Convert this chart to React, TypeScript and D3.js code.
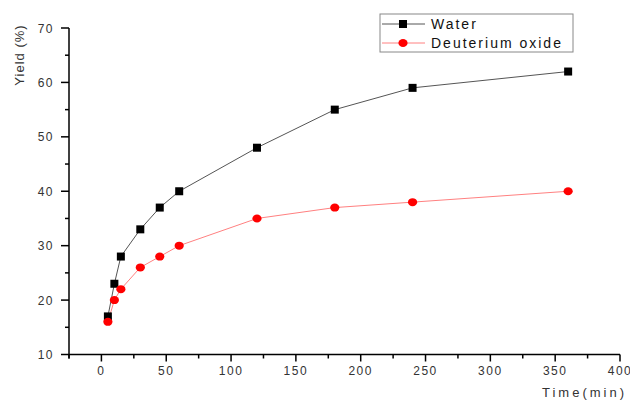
import React from "react";
import * as d3 from "d3";

const times = [5, 10, 15, 30, 45, 60, 120, 180, 240, 360];
const waterYield = [17, 23, 28, 33, 37, 40, 48, 55, 59, 62];
const d2oYield = [16, 20, 22, 26, 28, 30, 35, 37, 38, 40];
const xTicks = [0, 50, 100, 150, 200, 250, 300, 350, 400];
const xMinor = [-25, 25, 75, 125, 175, 225, 275, 325, 375];
const yTicks = [10, 20, 30, 40, 50, 60, 70];
const yMinor = [15, 25, 35, 45, 55, 65];
const seriesNames = ["Water", "Deuterium oxide"];

const W = 630;
const H = 401;
const font = "'Liberation Sans', Arial, sans-serif";

export default function App() {
  const x = d3.scaleLinear().domain([-25, 400]).range([69, 620]);
  const y = d3.scaleLinear().domain([10, 70]).range([354.5, 28]);
  const line = d3
    .line<[number, number]>()
    .x((d) => x(d[0]))
    .y((d) => y(d[1]));
  const wData = times.map((t, i) => [t, waterYield[i]] as [number, number]);
  const dData = times.map((t, i) => [t, d2oYield[i]] as [number, number]);
  const x0 = x(-25);
  const y0 = y(10);

  return (
    <svg
      width={W}
      height={H}
      style={{ position: "absolute", left: 0, top: 0, background: "#fff" }}
    >
      <rect width={W} height={H} fill="#fff" />
      {/* lines */}
      <path d={line(wData) || ""} fill="none" stroke="#555" strokeWidth={1} />
      <path d={line(dData) || ""} fill="none" stroke="#ff8080" strokeWidth={1} />
      {wData.map((d, i) => (
        <rect
          key={"w" + i}
          x={x(d[0]) - 4}
          y={y(d[1]) - 4}
          width={8}
          height={8}
          fill="#000"
        />
      ))}
      {dData.map((d, i) => (
        <ellipse
          key={"d" + i}
          cx={x(d[0])}
          cy={y(d[1])}
          rx={4.6}
          ry={4}
          fill="#ff0000"
        />
      ))}
      {/* axes */}
      <line x1={x0} x2={x(400)} y1={y0} y2={y0} stroke="#000" strokeWidth={1.5} />
      <line x1={x0} x2={x0} y1={y(70)} y2={y0 + 4} stroke="#000" strokeWidth={1.5} />
      {xTicks.map((t) => (
        <g key={"xt" + t}>
          <line x1={x(t)} x2={x(t)} y1={y0} y2={y0 + 7} stroke="#000" strokeWidth={1.5} />
          <text
            x={x(t)}
            y={375}
            textAnchor="middle"
            fontFamily={font}
            fontSize={12}
            letterSpacing={1.5}
            fill="#333"
          >
            {t}
          </text>
        </g>
      ))}
      {xMinor.map((t) => (
        <line key={"xm" + t} x1={x(t)} x2={x(t)} y1={y0} y2={y0 + 4} stroke="#000" strokeWidth={1.5} />
      ))}
      {yTicks.map((t) => (
        <g key={"yt" + t}>
          <line x1={x0 - 8} x2={x0} y1={y(t)} y2={y(t)} stroke="#000" strokeWidth={1.5} />
          <text
            x={54}
            y={y(t) + 4.5}
            textAnchor="end"
            fontFamily={font}
            fontSize={12}
            letterSpacing={1.5}
            fill="#333"
          >
            {t}
          </text>
        </g>
      ))}
      {yMinor.map((t) => (
        <line key={"ym" + t} x1={x0 - 4} x2={x0} y1={y(t)} y2={y(t)} stroke="#000" strokeWidth={1.5} />
      ))}
      {/* axis titles */}
      <text
        x={627}
        y={397}
        textAnchor="end"
        fontFamily={font}
        fontSize={13}
        letterSpacing={3}
        fill="#333"
      >
        Time(min)
      </text>
      <text
        transform="translate(24,55) rotate(-90)"
        textAnchor="middle"
        fontFamily={font}
        fontSize={13}
        letterSpacing={1}
        fill="#333"
      >
        Yield (%)
      </text>
      {/* legend */}
      <rect x={380} y={14} width={193} height={38} fill="#fff" stroke="#888" strokeWidth={1} />
      <line x1={382} x2={425} y1={24} y2={24} stroke="#555" strokeWidth={1} />
      <rect x={399} y={20} width={8} height={8} fill="#000" />
      <text x={431} y={29} fontFamily={font} fontSize={14} letterSpacing={2} fill="#111">
        {seriesNames[0]}
      </text>
      <line x1={382} x2={425} y1={43} y2={43} stroke="#ff8080" strokeWidth={1} />
      <ellipse cx={403} cy={43} rx={4.6} ry={4} fill="#ff0000" />
      <text x={431} y={48} fontFamily={font} fontSize={14} letterSpacing={2} fill="#111">
        {seriesNames[1]}
      </text>
    </svg>
  );
}
